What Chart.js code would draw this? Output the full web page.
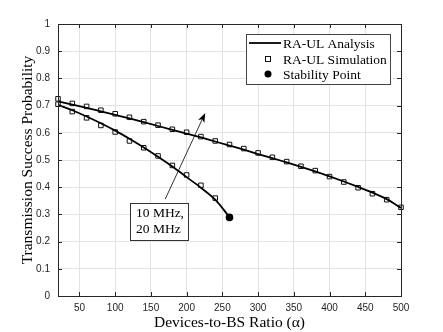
<!DOCTYPE html>
<html>
<head>
<meta charset="utf-8">
<script src="https://cdn.jsdelivr.net/npm/chart.js@4.4.1/dist/chart.umd.min.js"></script>
<style>
  html, body { margin: 0; padding: 0; background: #fff; }
  #wrap { width: 443px; height: 332px; }
</style>
</head>
<body>
<div id="wrap"><canvas id="chart"></canvas></div>
<script>
// Devices-to-BS ratio grid (simulation points every 20)
const alphaUpper = [20, 40, 60, 80, 100, 120, 140, 160, 180, 200, 220, 240, 260, 280, 300, 320, 340, 360, 380, 400, 420, 440, 460, 480, 500];
const alphaLower = [20, 40, 60, 80, 100, 120, 140, 160, 180, 200, 220, 240, 260];

// Analysis curves
const analysisUpper = [0.716, 0.704, 0.692, 0.679, 0.666, 0.653, 0.639, 0.625, 0.611, 0.597, 0.583, 0.568, 0.553, 0.538, 0.522, 0.507, 0.491, 0.475, 0.458, 0.440, 0.421, 0.401, 0.380, 0.356, 0.324];
const analysisLower = [0.703, 0.683, 0.660, 0.635, 0.608, 0.578, 0.546, 0.512, 0.476, 0.437, 0.398, 0.354, 0.290];

// Simulation points
const simUpper = [0.725, 0.708, 0.697, 0.683, 0.670, 0.657, 0.641, 0.628, 0.613, 0.602, 0.586, 0.570, 0.557, 0.542, 0.526, 0.510, 0.494, 0.477, 0.461, 0.439, 0.419, 0.398, 0.376, 0.354, 0.326];
const simLower = [0.705, 0.678, 0.655, 0.627, 0.603, 0.570, 0.545, 0.515, 0.480, 0.445, 0.407, 0.360];

// Stability point
const stabilityX = [260];
const stabilityY = [0.289];

// Ticks
const xTicks = [50, 100, 150, 200, 250, 300, 350, 400, 450, 500];
const yTicks = [0, 0.1, 0.2, 0.3, 0.4, 0.5, 0.6, 0.7, 0.8, 0.9, 1];
const yTickLabels = ['0', '0.1', '0.2', '0.3', '0.4', '0.5', '0.6', '0.7', '0.8', '0.9', '1'];

const legendLabels = ['RA-UL Analysis', 'RA-UL Simulation', 'Stability Point'];
const annotationLines = ['10 MHz,', '20 MHz'];
// arrow from text box to upper-left region (data coords)
const arrowFrom = [170, 0.356];
const arrowTo = [226, 0.673];

const INK = '#262626';
const SERIF = '"Liberation Serif", "DejaVu Serif", serif';
const SANS = '"Liberation Sans", Arial, sans-serif';

const toPts = (xs, ys) => ys.map((y, i) => ({ x: xs[i], y: y }));

// MATLAB-like frame, inner ticks, legend and annotation
const matlabPlugin = {
    id: 'matlabFrame',
    afterDraw(chart) {
        const { ctx, chartArea: a, scales } = chart;
        const xs = scales.x, ys = scales.y;
        ctx.save();

        // inner tick marks on all four sides
        ctx.strokeStyle = INK;
        ctx.lineWidth = 1;
        ctx.beginPath();
        xTicks.forEach(v => {
            const px = Math.round(xs.getPixelForValue(v)) + 0.5;
            ctx.moveTo(px, a.bottom); ctx.lineTo(px, a.bottom - 4);
            ctx.moveTo(px, a.top); ctx.lineTo(px, a.top + 4);
        });
        yTicks.forEach(v => {
            const py = Math.round(ys.getPixelForValue(v)) + 0.5;
            ctx.moveTo(a.left, py); ctx.lineTo(a.left + 4, py);
            ctx.moveTo(a.right, py); ctx.lineTo(a.right - 4, py);
        });
        ctx.stroke();

        // box
        ctx.strokeRect(Math.round(a.left) + 0.5, Math.round(a.top) + 0.5,
            Math.round(a.right - a.left), Math.round(a.bottom - a.top));

        // legend
        const lx = 246, ly = 34, lw = 144, lh = 50;
        ctx.fillStyle = '#fff';
        ctx.fillRect(lx, ly, lw, lh);
        ctx.strokeStyle = '#444';
        ctx.strokeRect(lx + 0.5, ly + 0.5, lw, lh);
        ctx.font = '13.5px ' + SERIF;
        ctx.fillStyle = '#000';
        ctx.textBaseline = 'middle';
        ctx.textAlign = 'left';
        const rows = [43, 59, 74];
        // line sample
        ctx.strokeStyle = '#000';
        ctx.lineWidth = 1.8;
        ctx.beginPath();
        ctx.moveTo(249, rows[0]); ctx.lineTo(281, rows[0]);
        ctx.stroke();
        // square sample
        ctx.lineWidth = 1;
        ctx.strokeStyle = '#111';
        ctx.fillStyle = '#fff';
        ctx.fillRect(265, rows[1] - 3, 6, 6);
        ctx.strokeRect(265.5, rows[1] - 2.5, 5, 5);
        // circle sample
        ctx.fillStyle = '#000';
        ctx.beginPath();
        ctx.arc(268, rows[2], 3.5, 0, Math.PI * 2);
        ctx.fill();
        legendLabels.forEach((t, i) => ctx.fillText(t, 283, rows[i] + 1));

        // arrow
        const x0 = xs.getPixelForValue(arrowFrom[0]), y0 = ys.getPixelForValue(arrowFrom[1]);
        const x1 = xs.getPixelForValue(arrowTo[0]), y1 = ys.getPixelForValue(arrowTo[1]);
        const ang = Math.atan2(y1 - y0, x1 - x0);
        ctx.strokeStyle = '#000';
        ctx.lineWidth = 0.8;
        ctx.beginPath();
        ctx.moveTo(x0, y0);
        ctx.lineTo(x1 - 6 * Math.cos(ang), y1 - 6 * Math.sin(ang));
        ctx.stroke();
        ctx.fillStyle = '#000';
        ctx.beginPath();
        ctx.moveTo(x1, y1);
        ctx.lineTo(x1 - 10 * Math.cos(ang - 0.35), y1 - 10 * Math.sin(ang - 0.35));
        ctx.lineTo(x1 - 7 * Math.cos(ang), y1 - 7 * Math.sin(ang));
        ctx.lineTo(x1 - 10 * Math.cos(ang + 0.35), y1 - 10 * Math.sin(ang + 0.35));
        ctx.closePath();
        ctx.fill();

        // text box
        const bx = 130, by = 203, bw = 58, bh = 37;
        ctx.fillStyle = '#fff';
        ctx.fillRect(bx, by, bw, bh);
        ctx.strokeStyle = '#333';
        ctx.lineWidth = 1;
        ctx.strokeRect(bx + 0.5, by + 0.5, bw, bh);
        ctx.fillStyle = '#000';
        ctx.font = '13.5px ' + SERIF;
        ctx.fillText(annotationLines[0], 136, 213);
        ctx.fillText(annotationLines[1], 136, 229);

        ctx.restore();
    }
};

const ctx = document.getElementById('chart').getContext('2d');
new Chart(ctx, {
    type: 'line',
    data: {
        datasets: [
            {
                label: 'RA-UL Analysis',
                data: toPts(alphaUpper, analysisUpper),
                borderColor: '#000', borderWidth: 1.8,
                pointRadius: 0, cubicInterpolationMode: 'monotone', clip: false
            },
            {
                label: 'RA-UL Analysis (2)',
                data: toPts(alphaLower, analysisLower),
                borderColor: '#000', borderWidth: 1.8,
                pointRadius: 0, cubicInterpolationMode: 'monotone', clip: false
            },
            {
                label: 'RA-UL Simulation',
                data: toPts(alphaUpper, simUpper),
                showLine: false, pointStyle: 'rect', pointRadius: 3.2,
                pointBackgroundColor: '#fff', pointBorderColor: '#111', pointBorderWidth: 1,
                clip: false
            },
            {
                label: 'RA-UL Simulation (2)',
                data: toPts(alphaLower, simLower),
                showLine: false, pointStyle: 'rect', pointRadius: 3.2,
                pointBackgroundColor: '#fff', pointBorderColor: '#111', pointBorderWidth: 1,
                clip: false
            },
            {
                label: 'Stability Point',
                data: toPts(stabilityX, stabilityY),
                showLine: false, pointStyle: 'circle', pointRadius: 3.8,
                pointBackgroundColor: '#000', pointBorderColor: '#000', pointBorderWidth: 0,
                clip: false
            }
        ]
    },
    options: {
        responsive: true,
        maintainAspectRatio: false,
        animation: false,
        layout: { padding: { left: 0, right: 42, top: 24, bottom: 0 } },
        plugins: {
            legend: { display: false },
            tooltip: { enabled: false }
        },
        scales: {
            x: {
                type: 'linear', min: 20, max: 500,
                afterBuildTicks: axis => { axis.ticks = xTicks.map(v => ({ value: v })); },
                afterFit: axis => { axis.height = 36; },
                grid: { color: '#e3e3e3', drawTicks: false },
                border: { display: false },
                ticks: { color: INK, font: { family: SANS, size: 10 }, padding: 6, maxRotation: 0 },
                title: {
                    display: true, text: 'Devices-to-BS Ratio (α)',
                    color: '#000', font: { family: SERIF, size: 15.5 }, padding: { top: 0, bottom: 0 }
                }
            },
            y: {
                min: 0, max: 1,
                afterBuildTicks: axis => { axis.ticks = yTicks.map(v => ({ value: v })); },
                afterFit: axis => { axis.width = 58; },
                grid: { color: '#e3e3e3', drawTicks: false },
                border: { display: false },
                ticks: {
                    color: INK, font: { family: SANS, size: 10 }, padding: 8,
                    callback: (v, i) => yTickLabels[i]
                },
                title: {
                    display: true, text: 'Transmission Success Probability',
                    color: '#000', font: { family: SERIF, size: 15.5 }, padding: { top: 19, bottom: 0 }
                }
            }
        }
    },
    plugins: [matlabPlugin]
});
</script>
</body>
</html>
